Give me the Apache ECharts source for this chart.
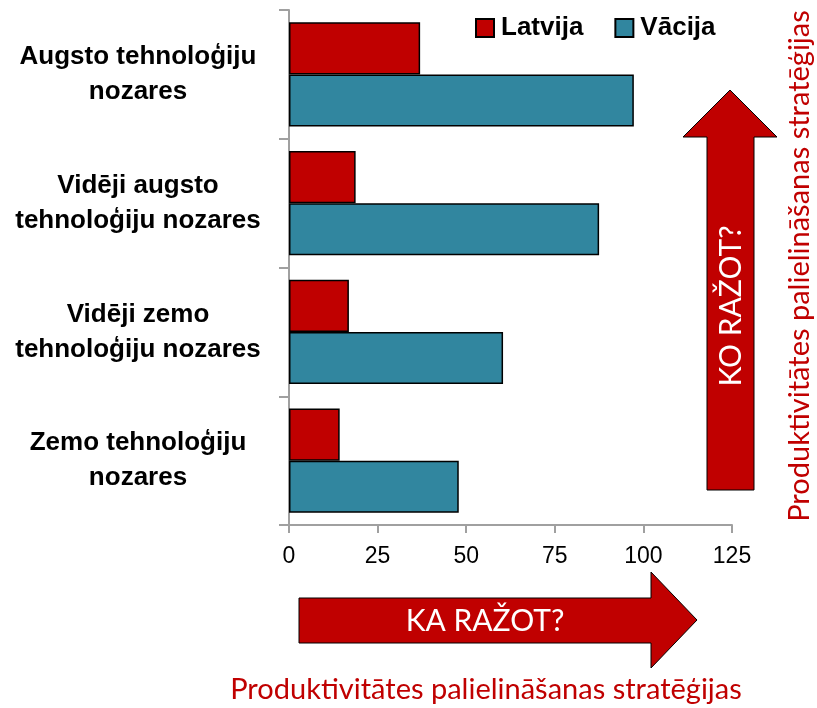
<!DOCTYPE html>
<html>
<head>
<meta charset="utf-8">
<script src="https://cdn.jsdelivr.net/npm/echarts@6/dist/echarts.min.js"></script>
<style>html,body{margin:0;padding:0;background:#fff}#c{width:817px;height:708px}</style>
</head>
<body>
<div id="c"></div>
<script>
const categories = ['Augsto tehnoloģiju\nnozares', 'Vidēji augsto\ntehnoloģiju nozares', 'Vidēji zemo\ntehnoloģiju nozares', 'Zemo tehnoloģiju\nnozares'];
const latvija = [37.0, 18.8, 16.9, 14.3];
const vacija = [97.3, 87.5, 60.4, 47.9];
const xTicks = [0, 25, 50, 75, 100, 125];
const seriesNames = ['Latvija', 'Vācija'];

const SANS = '"Liberation Sans", Arial, sans-serif';
const HUM = 'Lato, "Open Sans", sans-serif';
const RED = '#C00000', TEAL = '#31869F';

const chart = echarts.init(document.getElementById('c'));
chart.setOption({
  animation: false,
  grid: { left: 289, right: 85, top: 10, bottom: 183, containLabel: false, outerBoundsMode: 'none' },
  legend: {
    left: 475, top: 15, padding: 0, itemWidth: 18, itemHeight: 18, itemGap: 31,
    icon: 'rect',
    textStyle: { fontFamily: SANS, fontWeight: 'bold', fontSize: 26, color: '#000', padding: [0,0,0,2] },
    data: seriesNames
  },
  xAxis: {
    type: 'value', min: xTicks[0], max: xTicks[xTicks.length-1], interval: 25,
    splitLine: { show: false },
    axisLine: { show: true, lineStyle: { color: '#A0A0A0', width: 2 } },
    axisTick: { show: true, length: 8, lineStyle: { color: '#A0A0A0', width: 2 } },
    axisLabel: { margin: 20, fontFamily: SANS, fontSize: 23, color: '#000' }
  },
  yAxis: {
    type: 'category', inverse: true, data: categories,
    axisLine: { show: true, lineStyle: { color: '#A0A0A0', width: 2 } },
    axisTick: { show: true, length: 10, lineStyle: { color: '#A0A0A0', width: 2 } },
    axisLabel: {
      margin: 29,
      formatter: v => v.split('\n').map(l => '{a|' + l + '}').join('\n'),
      rich: { a: { width: 244, align: 'center', fontFamily: SANS, fontWeight: 'bold', fontSize: 26, lineHeight: 35, color: '#000' } }
    }
  },
  series: [
    { name: seriesNames[0], type: 'bar', data: latvija, barGap: '0%', barCategoryGap: '19%',
      itemStyle: { color: RED, borderColor: '#000', borderWidth: 1.5 } },
    { name: seriesNames[1], type: 'bar', data: vacija, barGap: '0%', barCategoryGap: '19%',
      itemStyle: { color: TEAL, borderColor: '#000', borderWidth: 1.5 } }
  ],
  graphic: [
    { type: 'polygon', shape: { points: [[707,490],[707,137],[683,137],[730,90],[777,137],[754,137],[754,490]] },
      style: { fill: RED, stroke: '#000', lineWidth: 1 } },
    { type: 'polygon', shape: { points: [[299,598],[651,598],[651,572],[697,620],[651,668],[651,643],[299,643]] },
      style: { fill: RED, stroke: '#000', lineWidth: 1 } },
    { type: 'text', x: 731, y: 306, rotation: Math.PI/2,
      style: { text: 'KO RAŽOT?', fill: '#fff', font: '30px ' + HUM, align: 'center', verticalAlign: 'middle' } },
    { type: 'text', x: 485, y: 621,
      style: { text: 'KA RAŽOT?', fill: '#fff', font: '30px ' + HUM, align: 'center', verticalAlign: 'middle' } },
    { type: 'text', x: 486, y: 690,
      style: { text: 'Produktivitātes palielināšanas stratēģijas', fill: RED, font: '29px ' + HUM, align: 'center', verticalAlign: 'middle' } },
    { type: 'text', x: 800, y: 266, rotation: Math.PI/2,
      style: { text: 'Produktivitātes palielināšanas stratēģijas', fill: RED, font: '29px ' + HUM, align: 'center', verticalAlign: 'middle' } }
  ]
});
</script>
</body>
</html>
